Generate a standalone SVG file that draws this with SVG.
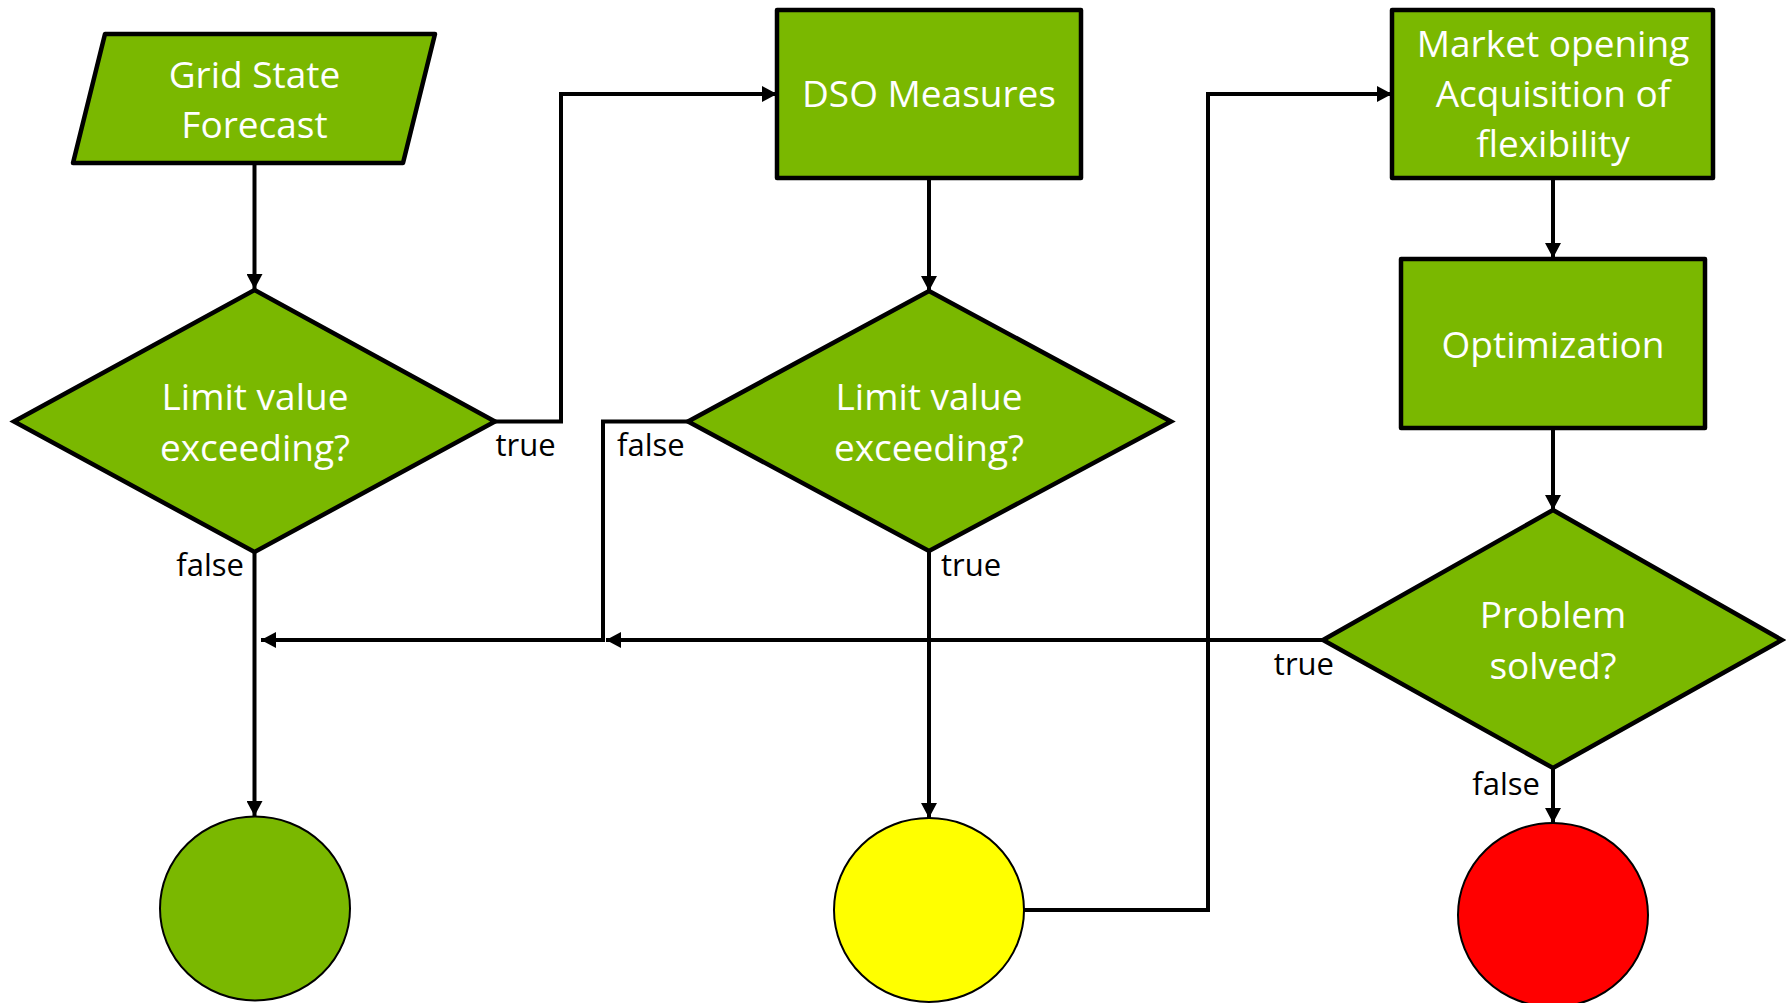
<svg xmlns="http://www.w3.org/2000/svg" width="1786" height="1003" viewBox="0 0 1786 1003">
<style>
.node{fill:#7AB800;stroke:#000;stroke-width:4.5;stroke-linejoin:round}
.dia{fill:#7AB800;stroke:#000;stroke-width:4.5;stroke-linejoin:miter}
.term{stroke:#000;stroke-width:2}
.lbl{font-family:"Open Sans","Noto Sans",sans-serif;font-size:37px;fill:#fff;text-anchor:middle}
.edge{font-family:"Open Sans","Noto Sans",sans-serif;font-size:31px;fill:#000}
.con{fill:none;stroke:#000;stroke-width:4}
.arr{fill:none;stroke:#000;stroke-width:4;marker-end:url(#ah)}
</style>
<defs>
<marker id="ah" markerUnits="userSpaceOnUse" markerWidth="16" markerHeight="16" refX="15" refY="8" orient="auto">
<path d="M0,0 L15,8 L0,16 z" fill="#000"/>
</marker>
</defs>
<rect width="1786" height="1003" fill="#fff"/>
<g id="grid-forecast">
<polygon class="node" points="105,34 435,34 403,163 73,163"/>
<text class="lbl" x="254.5" y="88">Grid State</text>
<text class="lbl" x="254.5" y="138">Forecast</text>
</g>
<g id="limit-check-1">
<polygon class="dia" points="254.5,290 495,421.5 254.5,552 14,421.5"/>
<text class="lbl" x="255" y="410">Limit value</text>
<text class="lbl" x="255" y="461">exceeding?</text>
</g>
<g id="dso-measures">
<rect class="node" x="777" y="10" width="304" height="168"/>
<text class="lbl" x="929" y="107">DSO Measures</text>
</g>
<g id="limit-check-2">
<polygon class="dia" points="929,291 1171,421.5 929,551 688,421.5"/>
<text class="lbl" x="929" y="410">Limit value</text>
<text class="lbl" x="929" y="461">exceeding?</text>
</g>
<g id="market-opening">
<rect class="node" x="1392" y="10" width="321" height="168"/>
<text class="lbl" x="1553" y="57">Market opening</text>
<text class="lbl" x="1553" y="107">Acquisition of</text>
<text class="lbl" x="1553" y="157">flexibility</text>
</g>
<g id="optimization">
<rect class="node" x="1401" y="259" width="304" height="169"/>
<text class="lbl" x="1553" y="358">Optimization</text>
</g>
<g id="problem-solved">
<polygon class="dia" points="1553,510 1782,640 1553,768 1323,640"/>
<text class="lbl" x="1553" y="628">Problem</text>
<text class="lbl" x="1553" y="679">solved?</text>
</g>
<g id="green-end">
<ellipse class="term" cx="255" cy="908.5" rx="95" ry="92" fill="#7AB800"/>
</g>
<g id="yellow-end">
<ellipse class="term" cx="929" cy="910" rx="95" ry="92" fill="#FFFF00"/>
</g>
<g id="red-end">
<ellipse class="term" cx="1553" cy="915" rx="95" ry="92" fill="#FF0000"/>
</g>
<g id="connectors">
<path class="arr" d="M254.5,163 V289"/>
<path class="arr" d="M495,421.5 H561 V94 H777"/>
<path class="arr" d="M929,178 V291"/>
<path class="arr" d="M688,421.5 H603 V640 H261"/>
<path class="arr" d="M929,551 V818"/>
<path class="arr" d="M254.5,552 V816"/>
<path class="arr" d="M1024,910 H1208 V94 H1392"/>
<path class="arr" d="M1553,178 V258"/>
<path class="arr" d="M1553,428 V510"/>
<path class="arr" d="M1323,640 H606"/>
<path class="arr" d="M1553,768 V823"/>
<text class="edge" x="495.5" y="456">true</text>
<text class="edge" x="244" y="576" text-anchor="end">false</text>
<text class="edge" x="617" y="456">false</text>
<text class="edge" x="941" y="576">true</text>
<text class="edge" x="1334" y="675" text-anchor="end">true</text>
<text class="edge" x="1540" y="795" text-anchor="end">false</text>
</g>
</svg>
